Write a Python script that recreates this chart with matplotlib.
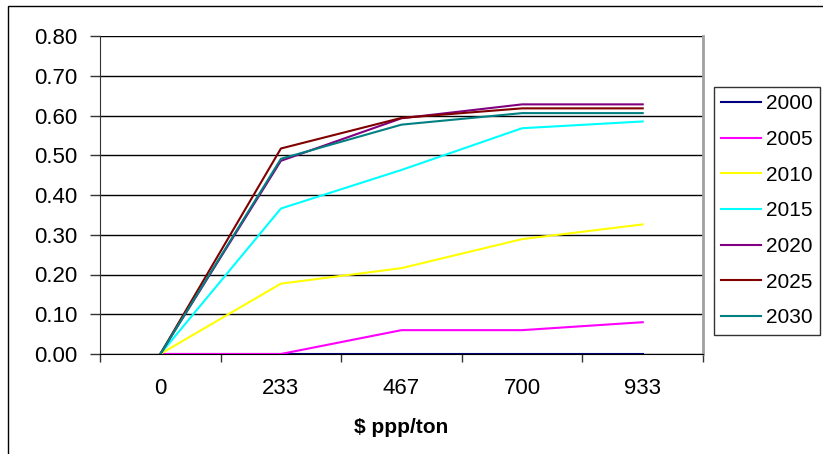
import matplotlib.pyplot as plt
from matplotlib.patches import Rectangle

# Data
prices = ['0', '233', '467', '700', '933']
years = ['2000', '2005', '2010', '2015', '2020', '2025', '2030']
s2000 = [0.0, 0.0, 0.0, 0.0, 0.0]
s2005 = [0.0, 0.0, 0.06, 0.06, 0.08]
s2010 = [0.0, 0.177, 0.216, 0.289, 0.326]
s2015 = [0.0, 0.366, 0.463, 0.568, 0.585]
s2020 = [0.0, 0.486, 0.593, 0.628, 0.628]
s2025 = [0.0, 0.517, 0.594, 0.618, 0.618]
s2030 = [0.0, 0.491, 0.577, 0.606, 0.606]
colors = ['#000080', '#FF00FF', '#FFFF00', '#00FFFF', '#800080', '#800000', '#008080']

plt.rcParams['font.family'] = ['Liberation Sans', 'DejaVu Sans']

fig = plt.figure(figsize=(8.23, 4.54), dpi=100)
ax = fig.add_axes([100/823, 1 - 354/454, 603/823, 318/454])

# outer chart border (only left and top visible)
fig.patches.append(Rectangle((8/823, -0.1), 1.2, 1.1 - 6/454, transform=fig.transFigure,
                             fill=False, edgecolor='black', linewidth=1.0))

xs = range(len(prices))
for vals, lab, c in zip([s2000, s2005, s2010, s2015, s2020, s2025, s2030], years, colors):
    ax.plot(xs, vals, color=c, linewidth=1.5, label=lab)

ax.set_xlim(-0.5, len(prices) - 0.5)
ax.set_ylim(0, 0.8)
ax.set_yticks([i / 10 for i in range(9)])
ax.set_yticklabels(['%.2f' % (i / 10) for i in range(9)])
ax.yaxis.grid(True, color='black', linewidth=1.0)
ax.set_axisbelow(True)

ax.set_xticks(list(xs))
ax.set_xticklabels(prices)
ax.set_xticks([i + 0.5 for i in range(-1, len(prices))], minor=True)
ax.tick_params(axis='x', which='major', length=0, pad=17, labelsize=16)
ax.tick_params(axis='x', which='minor', length=6, width=1, color='#333333')
ax.tick_params(axis='y', length=7, width=1, color='#333333', pad=9, labelsize=16)

ax.spines['top'].set_visible(False)
ax.spines['right'].set_color('#a0a0a0')
ax.spines['right'].set_linewidth(2)
ax.spines['left'].set_color('#333333')
ax.spines['bottom'].set_color('black')

ax.set_xlabel('$ ppp/ton', fontsize=15, fontweight='bold', labelpad=14)

leg = fig.legend(loc='upper left', bbox_to_anchor=(714/823, 1 - 87/454), fontsize=15,
                 frameon=True, fancybox=False, handlelength=1.9, handletextpad=0.25,
                 labelspacing=0.8, borderpad=0.35, borderaxespad=0)
leg.get_frame().set_edgecolor('black')
leg.get_frame().set_linewidth(1.0)

fig.savefig('out.png', dpi=100)
